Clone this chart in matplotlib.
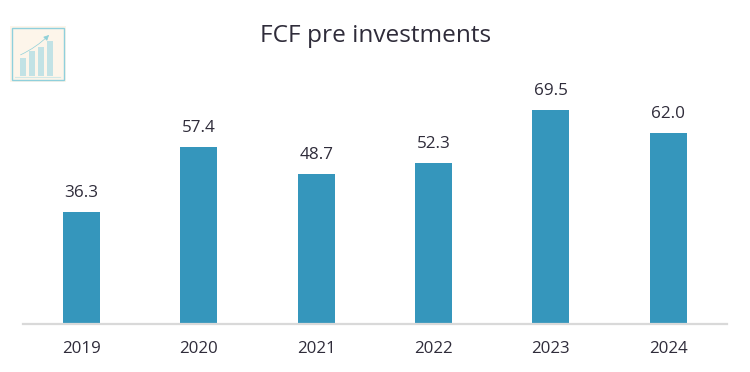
import matplotlib
matplotlib.use('Agg')
import matplotlib.pyplot as plt
import matplotlib.patches as mpatches

years = ['2019', '2020', '2021', '2022', '2023', '2024']
fcf = [36.3, 57.4, 48.7, 52.3, 69.5, 62.0]
icon_bars = [18, 25, 29, 35]

W, H = 750, 372
plt.rcParams['font.family'] = ['Open Sans', 'DejaVu Sans']
text_color = '#2f2c3a'

fig = plt.figure(figsize=(W / 100, H / 100), dpi=100)
# plot area placed in pixels
ax = fig.add_axes([22.8 / W, (H - 323.5) / H, 704 / W, 300 / H])
x = range(len(years))
ax.bar(x, fcf, width=0.315, color='#3596bc')
ax.set_xlim(-0.5, 5.5)
ax.set_ylim(0, 300 / 3.07)

for i, v in zip(x, fcf):
    ax.annotate(f'{v:.1f}', (i, v), xytext=(0, 8), textcoords='offset points',
                ha='center', va='bottom', fontsize=12.3, color=text_color)

ax.set_xticks(list(x))
ax.set_xticklabels(years, fontsize=12.2, color=text_color)
ax.tick_params(axis='x', length=0, pad=12.5)
ax.set_yticks([])
for s in ['top', 'left', 'right']:
    ax.spines[s].set_visible(False)
ax.spines['bottom'].set_color('#d9d9d9')
ax.spines['bottom'].set_linewidth(1.6)

fig.text(375.5 / W, (H - 36.5) / H, 'FCF pre investments', ha='center', va='center',
         fontsize=17.6, color=text_color)

# small icon top left
icon = fig.add_axes([10 / W, (H - 82) / H, 56 / W, 56 / H])
icon.set_xlim(0, 56)
icon.set_ylim(56, 0)
icon.axis('off')
icon.add_patch(mpatches.Rectangle((0, 0), 56, 56, color='#fdf5ea', lw=0))
icon.add_patch(mpatches.Rectangle((2, 2), 52, 52, fill=False, ec='#8fd0dc', lw=1))
for i, h in enumerate(icon_bars):
    icon.add_patch(mpatches.Rectangle((10 + i * 9, 50 - h), 6, h, color='#c2e2e5', lw=0))
icon.plot([5, 50], [50.5, 50.5], color='#d2e8e6', lw=0.8)
icon.annotate('', xy=(41, 7), xytext=(8, 30),
              arrowprops=dict(arrowstyle='-|>', color='#8fd0d8', lw=0.5,
                              connectionstyle='arc3,rad=0.1', mutation_scale=8))

fig.savefig('out.png', dpi=100)
